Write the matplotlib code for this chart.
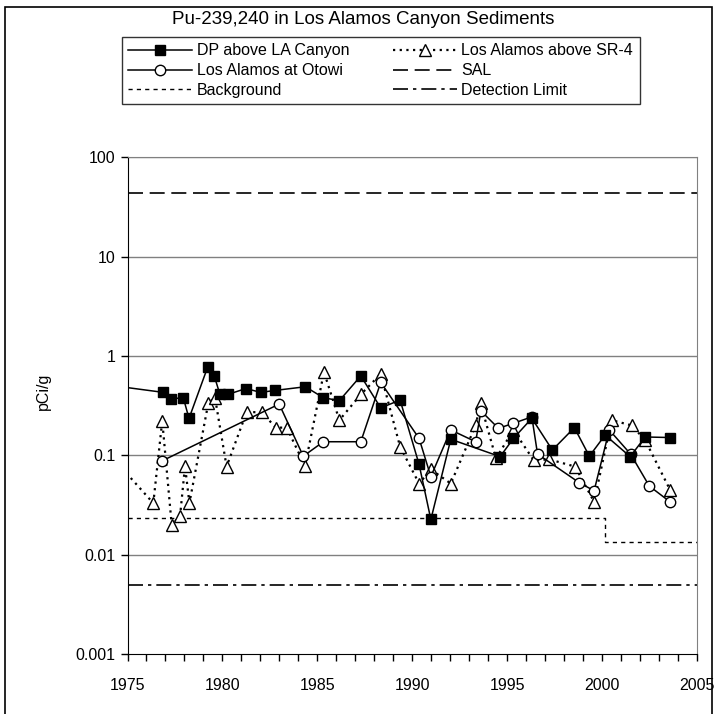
import matplotlib
matplotlib.use("Agg")
import matplotlib.pyplot as plt
from matplotlib.patches import Rectangle
from matplotlib.lines import Line2D

plt.rcParams['font.family'] = ['Liberation Sans', 'DejaVu Sans']

# data
dp_year = [1973.0, 1976.89, 1977.28, 1977.94, 1978.24, 1979.22, 1979.57, 1979.87, 1980.28,
           1981.24, 1982.02, 1982.77, 1984.37, 1985.32, 1986.16, 1987.29, 1988.34, 1989.36,
           1990.36, 1990.98, 1992.03, 1994.63, 1995.33, 1996.3, 1997.38, 1998.54, 1999.33,
           2000.16, 2001.48, 2002.27, 2003.58]
dp_val = [0.54, 0.43, 0.37, 0.38, 0.235, 0.77, 0.63, 0.41, 0.41,
          0.47, 0.43, 0.45, 0.49, 0.38, 0.355, 0.63, 0.30, 0.36,
          0.081, 0.0226, 0.145, 0.097, 0.148, 0.236, 0.113, 0.19, 0.098,
          0.16, 0.097, 0.153, 0.151]

ot_year = [1976.8, 1982.99, 1984.26, 1985.32, 1987.29, 1988.34, 1990.36, 1990.98, 1992.03,
           1993.34, 1993.62, 1994.54, 1995.33, 1996.3, 1996.6, 1998.8, 1999.58, 2000.38,
           2001.5, 2002.49, 2003.58]
ot_val = [0.0875, 0.328, 0.098, 0.137, 0.137, 0.542, 0.148, 0.061, 0.18,
          0.137, 0.28, 0.187, 0.21, 0.244, 0.103, 0.053, 0.044, 0.18,
          0.103, 0.049, 0.034]

sr_year = [1974.0, 1976.36, 1976.83, 1977.33, 1977.77, 1978.03, 1978.26, 1979.26, 1979.61,
           1980.22, 1981.28, 1982.07, 1982.82, 1983.39, 1984.35, 1985.35, 1986.16, 1987.29,
           1988.34, 1989.36, 1990.36, 1990.98, 1992.03, 1993.34, 1993.6, 1994.41, 1995.33,
           1996.4, 1997.22, 1998.58, 1999.58, 2000.5, 2001.56, 2002.27, 2003.58]
sr_val = [0.105, 0.033, 0.223, 0.0198, 0.0246, 0.078, 0.033, 0.338, 0.38,
          0.077, 0.274, 0.27, 0.19, 0.19, 0.078, 0.69, 0.226, 0.41,
          0.66, 0.122, 0.052, 0.072, 0.052, 0.2, 0.333, 0.093, 0.18,
          0.089, 0.091, 0.077, 0.034, 0.226, 0.2, 0.142, 0.045]

bg_year = [1975, 2000.16, 2000.16, 2005]
bg_val = [0.0235, 0.0235, 0.0135, 0.0135]

sal = 44
det_limit = 0.005

fig = plt.figure(figsize=(7.27, 7.14), dpi=100)
ax = fig.add_axes([127.5 / 727, 60 / 714, 569.5 / 727, 496.7 / 714])

# outer frame of the chart
fig.patches.append(Rectangle((5 / 727, -0.01), 707 / 727, 1.0, transform=fig.transFigure,
                             fill=False, edgecolor='black', linewidth=1.2))

for y in [0.01, 0.1, 1, 10, 100]:
    ax.axhline(y, color='#808080', linewidth=1, zorder=0)

ax.plot(bg_year, bg_val, color='black', linewidth=1, linestyle=(0, (3, 3)))
ax.axhline(sal, color='black', linewidth=1.2, linestyle=(0, (9, 4)))
ax.axhline(det_limit, color='black', linewidth=1.2, linestyle=(0, (9, 3, 2, 3)))

ax.plot(sr_year, sr_val, color='black', linewidth=1.6, linestyle=(0, (1, 2)),
        marker='^', markersize=8, markerfacecolor='white', markeredgecolor='black',
        markeredgewidth=1)
ax.plot(ot_year, ot_val, color='black', linewidth=1.1, marker='o', markersize=7.5,
        markerfacecolor='white', markeredgecolor='black', markeredgewidth=1)
ax.plot(dp_year, dp_val, color='black', linewidth=1.1, marker='s', markersize=7,
        markerfacecolor='black', markeredgecolor='black')

ax.set_yscale('log')
ax.set_ylim(0.001, 100)
ax.set_xlim(1975, 2005)
ax.set_xticks(range(1975, 2006, 5))
ax.set_xticks(range(1975, 2006), minor=True)
ax.set_yticks([0.001, 0.01, 0.1, 1, 10, 100])
ax.set_yticklabels(['0.001', '0.01', '0.1', '1', '10', '100'])
ax.yaxis.set_minor_locator(matplotlib.ticker.NullLocator())
ax.tick_params(axis='both', direction='out', labelsize=11.5, length=5, width=1)
ax.tick_params(axis='x', which='minor', direction='out', length=5, width=1)
ax.tick_params(axis='x', pad=12)
ax.spines['top'].set_color('#808080')
ax.spines['right'].set_color('#808080')

fig.text(43 / 727, 1 - 391 / 714, 'pCi/g', rotation=90, ha='center', va='center', fontsize=11.5)
fig.text(363 / 727, 1 - 19 / 714, 'Pu-239,240 in Los Alamos Canyon Sediments',
         ha='center', va='center', fontsize=13.5)

handles = [
    Line2D([], [], color='black', linewidth=1.1, marker='s', markersize=7, markerfacecolor='black'),
    Line2D([], [], color='black', linewidth=1.1, marker='o', markersize=7.5, markerfacecolor='white'),
    Line2D([], [], color='black', linewidth=1, linestyle=(0, (3, 3))),
    Line2D([], [], color='black', linewidth=1.6, linestyle=(0, (1, 2)), marker='^', markersize=8,
           markerfacecolor='white'),
    Line2D([], [], color='black', linewidth=1.2, linestyle=(0, (9, 4))),
    Line2D([], [], color='black', linewidth=1.2, linestyle=(0, (9, 3, 2, 3))),
]
labels = ['DP above LA Canyon', 'Los Alamos at Otowi', 'Background',
          'Los Alamos above SR-4', 'SAL', 'Detection Limit']
leg = fig.legend(handles, labels, ncol=2, loc='upper left',
                 bbox_to_anchor=(122 / 727, 1 - 37 / 714), fontsize=11.5, frameon=True,
                 fancybox=False, handlelength=4.0, handletextpad=0.3, columnspacing=2.7,
                 labelspacing=0.3, borderpad=0.4, borderaxespad=0)
leg.get_frame().set_edgecolor('black')
leg.get_frame().set_linewidth(1)

fig.savefig('out.png', dpi=100)
